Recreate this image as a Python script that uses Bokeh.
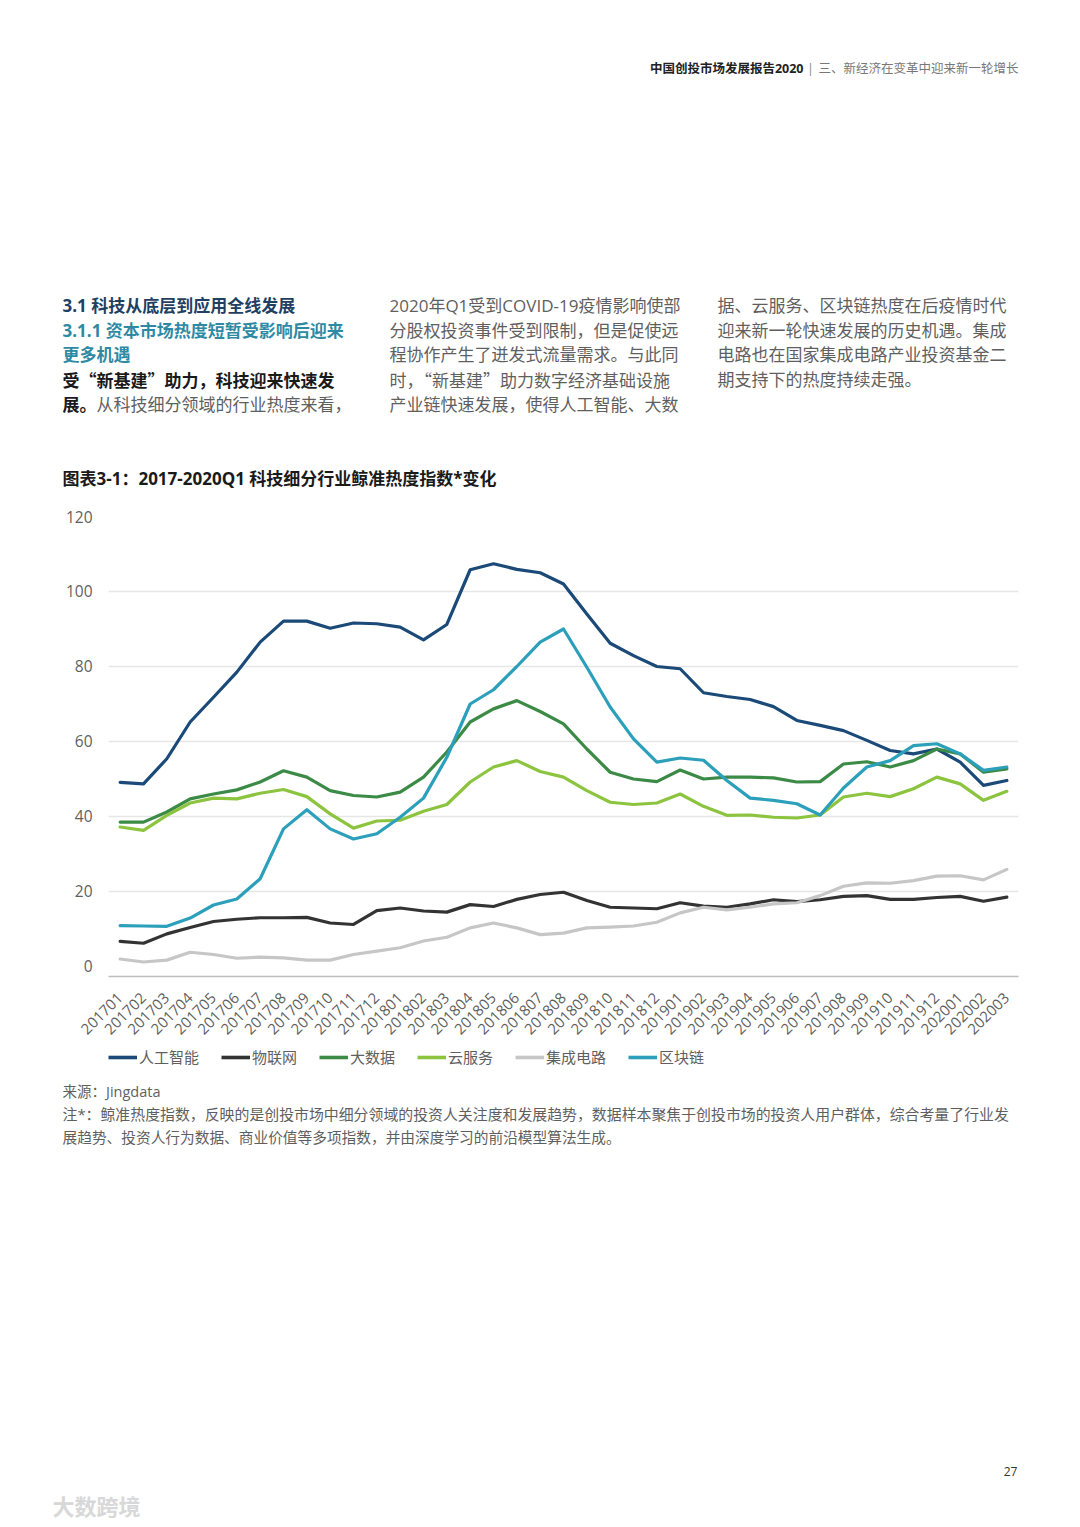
import math
from bokeh.plotting import figure
from bokeh.models import Range1d, FactorRange, FixedTicker, Legend, LegendItem
from bokeh.core.properties import value
from bokeh.embed import file_html
from bokeh.resources import INLINE

# ---------------- data ----------------
months = ["201701", "201702", "201703", "201704", "201705", "201706", "201707", "201708",
          "201709", "201710", "201711", "201712", "201801", "201802", "201803", "201804",
          "201805", "201806", "201807", "201808", "201809", "201810", "201811", "201812",
          "201901", "201902", "201903", "201904", "201905", "201906", "201907", "201908",
          "201909", "201910", "201911", "201912", "202001", "202002", "202003"]

ai = [49.1, 48.7, 55.4, 65.2, 71.8, 78.5, 86.5, 92.1, 92.1, 90.2, 91.6, 91.4, 90.5, 87.1,
      91.2, 105.8, 107.4, 105.9, 105.0, 102.0, 94.0, 86.2, 82.9, 80.0, 79.4, 73.0, 72.0,
      71.2, 69.3, 65.6, 64.3, 62.9, 60.3, 57.6, 56.7, 58.0, 54.5, 48.3, 49.6]
iot = [6.7, 6.2, 8.7, 10.4, 12.0, 12.6, 13.0, 13.0, 13.1, 11.6, 11.2, 14.9, 15.6, 14.8,
       14.5, 16.5, 16.0, 17.9, 19.2, 19.8, 17.6, 15.8, 15.6, 15.4, 17.0, 16.1, 15.8, 16.7,
       17.8, 17.3, 17.8, 18.7, 18.9, 17.9, 17.9, 18.4, 18.7, 17.4, 18.5]
bigdata = [38.5, 38.5, 41.2, 44.7, 46.0, 47.1, 49.2, 52.2, 50.5, 46.9, 45.6, 45.2, 46.5,
           50.5, 57.2, 65.2, 68.7, 70.9, 68.0, 64.7, 58.0, 51.8, 50.0, 49.3, 52.4, 50.0,
           50.5, 50.5, 50.3, 49.2, 49.3, 54.0, 54.6, 53.2, 54.9, 58.0, 56.7, 51.8, 52.7]
cloud = [37.2, 36.3, 40.3, 43.6, 44.9, 44.7, 46.2, 47.2, 45.3, 40.7, 36.9, 38.8, 39.0,
         41.4, 43.2, 49.2, 53.2, 54.9, 52.0, 50.5, 46.9, 43.8, 43.2, 43.6, 46.0, 42.7,
         40.3, 40.4, 39.8, 39.6, 40.4, 45.2, 46.2, 45.3, 47.4, 50.5, 48.7, 44.3, 46.7]
ic = [2.0, 1.2, 1.7, 3.8, 3.2, 2.2, 2.5, 2.3, 1.7, 1.7, 3.2, 4.1, 5.0, 6.8, 7.8, 10.3,
      11.6, 10.3, 8.5, 8.9, 10.3, 10.5, 10.8, 11.8, 14.3, 15.8, 15.1, 15.8, 16.7, 17.0,
      18.9, 21.4, 22.3, 22.2, 22.9, 24.1, 24.2, 23.1, 25.9]
blockchain = [10.9, 10.8, 10.7, 12.9, 16.4, 18.0, 23.4, 36.7, 41.8, 36.7, 34.0, 35.4,
              39.8, 44.9, 55.8, 70.0, 73.8, 80.0, 86.5, 90.0, 79.8, 69.2, 60.7, 54.5,
              55.6, 55.0, 49.6, 44.9, 44.3, 43.4, 40.4, 47.6, 53.2, 54.9, 58.9, 59.4,
              56.7, 52.3, 53.2]

series_names = ["人工智能", "物联网", "大数据", "云服务", "集成电路", "区块链"]
series_values = [ai, iot, bigdata, cloud, ic, blockchain]
series_colors = ["#1b4a78", "#333333", "#3b8a46", "#8cc43f", "#c6c6c6", "#2c9fba"]

y_ticks = [0, 20, 40, 60, 80, 100, 120]

FONT = "'Open Sans', 'Noto Sans CJK SC'"
CJK = "'Noto Sans CJK SC'"
GRAY = "#5f5f5f"
W = 1064


def txt(p, x, y, s, size, color, bold=False, align="left", font=FONT):
    p.text(x=[x], y=[y], text=[s], text_font=value(font), text_font_size=size,
           text_color=color, text_font_style="bold" if bold else "normal",
           text_align=align, text_baseline="middle")


def page_fig(y0, y1):
    f = figure(width=W, height=y1 - y0, x_range=Range1d(0, W), y_range=Range1d(y1, y0),
               output_backend="svg", toolbar_location=None, min_border=0,
               x_axis_location=None, y_axis_location=None)
    f.grid.visible = False
    f.outline_line_color = None
    return f


# ---------------- top part: header + text ----------------
top = page_fig(0, 500)
txt(top, 803, 68, "中国创投市场发展报告2020", "12.5px", "#222222", bold=True, align="right")
txt(top, 810, 68, "|", "12.5px", "#888888", align="center")
txt(top, 818, 68, "三、新经济在变革中迎来新一轮增长", "12.5px", "#777777")

ly = [305, 330, 354, 379, 404]
txt(top, 62, ly[0], "3.1 科技从底层到应用全线发展", "17px", "#1f3f63", bold=True)
txt(top, 62, ly[1], "3.1.1 资本市场热度短暂受影响后迎来", "17px", "#2e8aa3", bold=True)
txt(top, 62, ly[2], "更多机遇", "17px", "#2e8aa3", bold=True)
txt(top, 62, ly[3], "受“新基建”助力，科技迎来快速发", "17px", "#1a1a1a", bold=True, font=CJK)
txt(top, 62, ly[4], "展。", "17px", "#1a1a1a", bold=True)
txt(top, 96, ly[4], "从科技细分领域的行业热度来看，", "17px", GRAY)

col2 = ["2020年Q1受到COVID-19疫情影响使部", "分股权投资事件受到限制，但是促使远",
        "程协作产生了迸发式流量需求。与此同", "时，“新基建”助力数字经济基础设施",
        "产业链快速发展，使得人工智能、大数"]
for i, s in enumerate(col2):
    txt(top, 389, ly[i], s, "17px", GRAY, font=CJK if "“" in s else FONT)
col3 = ["据、云服务、区块链热度在后疫情时代", "迎来新一轮快速发展的历史机遇。集成",
        "电路也在国家集成电路产业投资基金二", "期支持下的热度持续走强。"]
for i, s in enumerate(col3):
    txt(top, 717, ly[i], s, "17px", GRAY)

txt(top, 62, 478, "图表3-1：2017-2020Q1 科技细分行业鲸准热度指数*变化", "17px", "#1a1a1a", bold=True)

# ---------------- chart ----------------
p = figure(width=W, height=545, x_range=FactorRange(factors=months),
           y_range=Range1d(-2.67, 120), output_backend="svg", toolbar_location=None,
           min_border_left=108, min_border_right=W - 1018, min_border_top=16,
           min_border_bottom=69)
p.outline_line_color = None
p.xgrid.grid_line_color = None
p.ygrid.ticker = FixedTicker(ticks=y_ticks[1:])
p.ygrid.grid_line_color = "#e6e6e6"
p.ygrid.grid_line_width = 1.3

p.yaxis.ticker = FixedTicker(ticks=y_ticks)
p.yaxis.axis_line_color = None
p.yaxis.major_tick_line_color = None
p.yaxis.major_tick_out = 0
p.yaxis.major_tick_in = 0
p.yaxis.minor_tick_line_color = None
p.yaxis.major_label_standoff = 16
p.yaxis.major_label_text_font = FONT
p.yaxis.major_label_text_font_size = "15.5px"
p.yaxis.major_label_text_color = GRAY

p.xaxis.axis_line_color = "#bdbdbd"
p.xaxis.axis_line_width = 1.6
p.xaxis.major_tick_line_color = None
p.xaxis.major_tick_out = 0
p.xaxis.major_tick_in = 0
p.xaxis.minor_tick_line_color = None
p.xaxis.major_label_orientation = math.pi / 4
p.xaxis.major_label_standoff = 19
p.xaxis.major_label_text_font = FONT
p.xaxis.major_label_text_font_size = "15px"
p.xaxis.major_label_text_color = GRAY

for name, vals, col in zip(series_names, series_values, series_colors):
    p.line(x=months, y=vals, line_color=col, line_width=3.2, line_join="round",
           line_cap="round")

# ---------------- bottom part: legend + notes ----------------
bot = page_fig(1045, 1519)
items = []
for name, col in zip(series_names, series_colors):
    # legend-only renderer: a single empty (NaN) point, nothing drawn in the frame
    r = bot.line(x=[float("nan")], y=[float("nan")], line_color=col, line_width=3.6)
    items.append(LegendItem(label=name, renderers=[r]))
legend = Legend(items=items, orientation="horizontal", location=(108, 1519 - 1067),
                glyph_width=29, glyph_height=18, label_standoff=2, spacing=22,
                padding=0, margin=0, border_line_color=None, background_fill_alpha=0,
                label_text_font=FONT, label_text_font_size="15px",
                label_text_color=GRAY, label_height=18)
bot.add_layout(legend, "center")

txt(bot, 62, 1091, "来源：Jingdata", "14.5px", GRAY)
txt(bot, 62, 1113, "注*：鲸准热度指数，反映的是创投市场中细分领域的投资人关注度和发展趋势，数据样本聚焦于创投市场的投资人用户群体，综合考量了行业发",
    "14.9px", GRAY)
txt(bot, 62, 1136, "展趋势、投资人行为数据、商业价值等多项指数，并由深度学习的前沿模型算法生成。",
    "14.7px", GRAY)
txt(bot, 1010, 1471, "27", "12px", "#333333", align="center")
txt(bot, 52, 1505, "大数跨境", "22px", "#d8d8d8", bold=True)

open("out.html", "w").write(file_html([top, p, bot], INLINE))
